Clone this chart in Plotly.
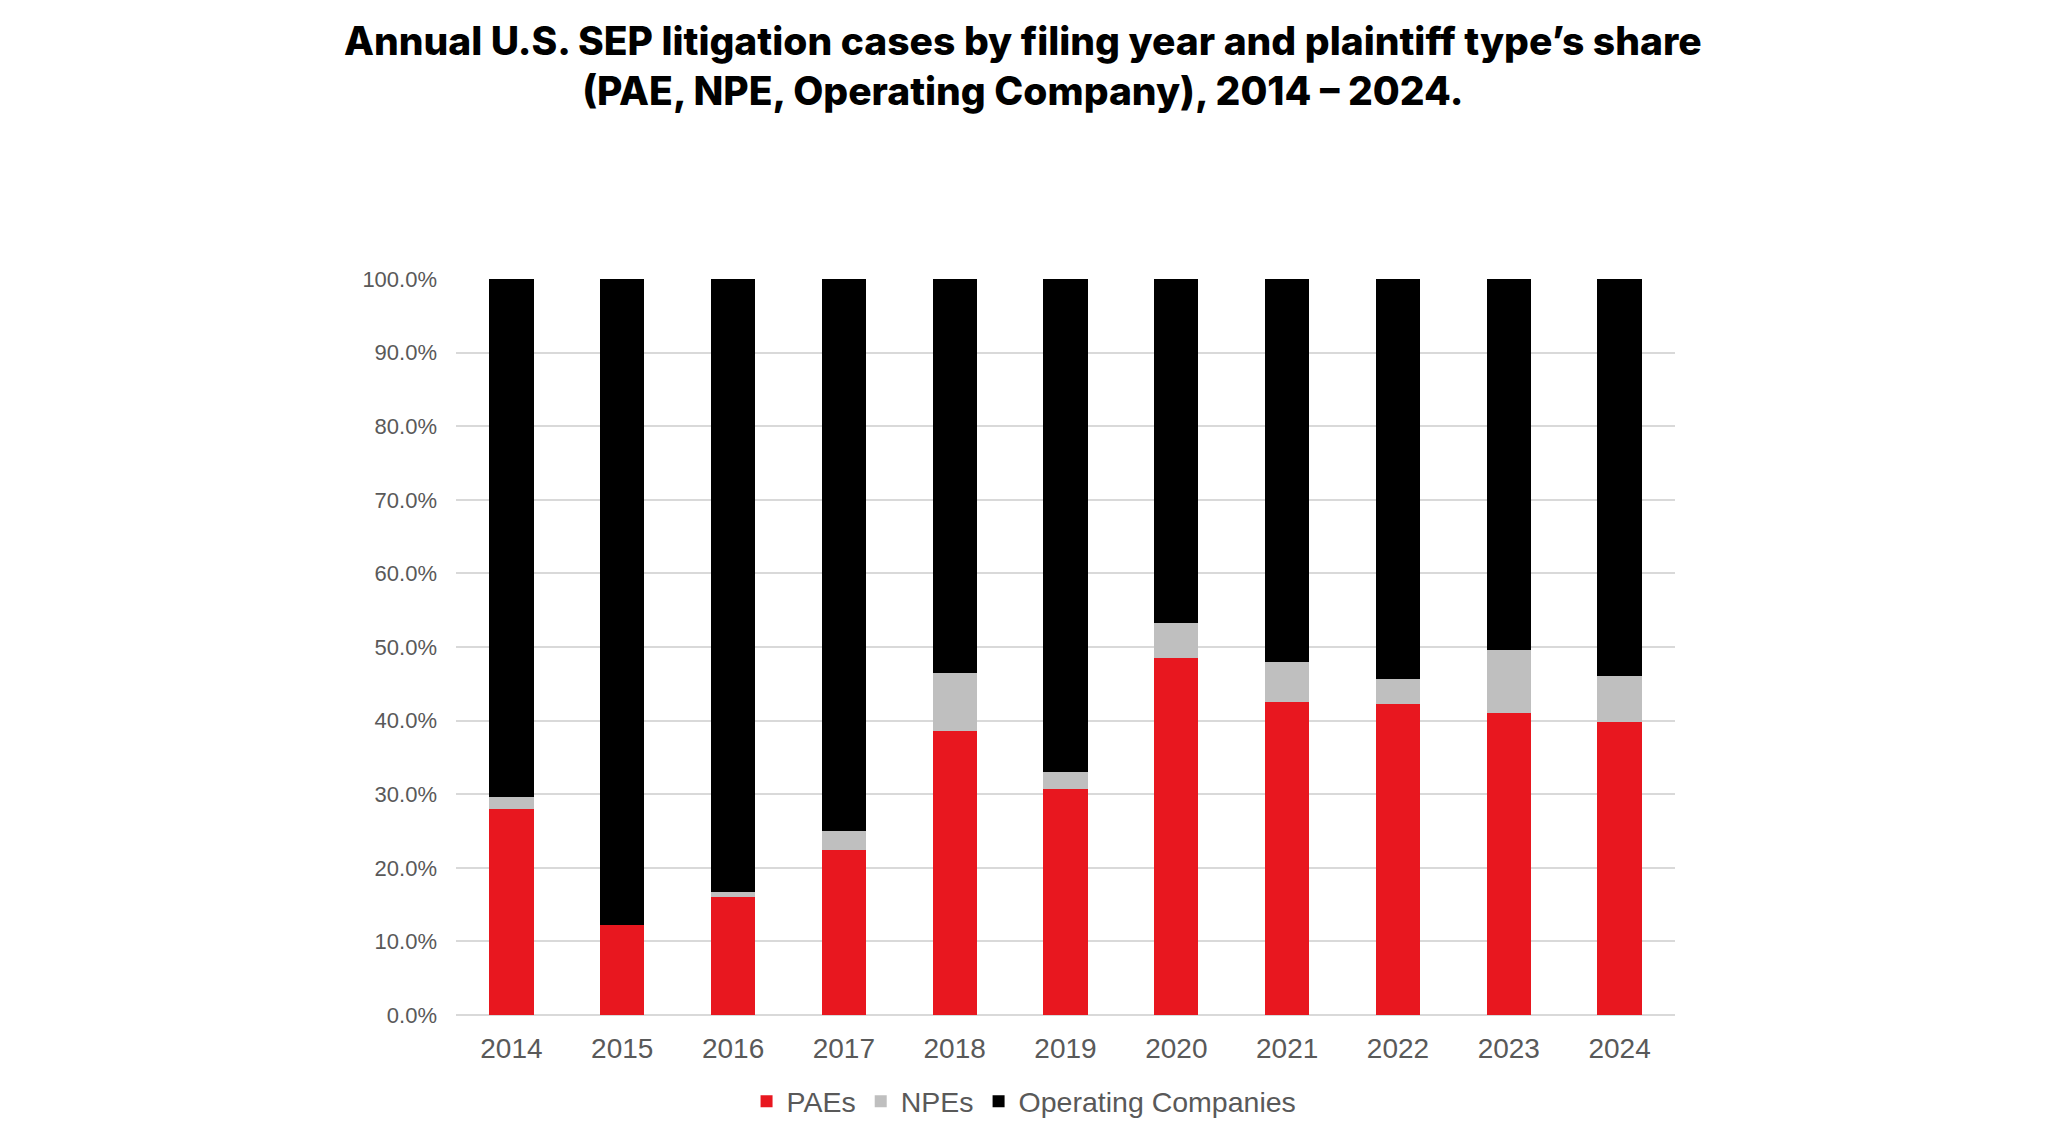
import plotly.graph_objects as go

years = ["2014", "2015", "2016", "2017", "2018", "2019", "2020", "2021", "2022", "2023", "2024"]
pae = [28.0, 12.2, 16.1, 22.4, 38.6, 30.7, 48.5, 42.5, 42.3, 41.1, 39.8]
npe = [1.6, 0.0, 0.6, 2.6, 7.9, 2.3, 4.7, 5.5, 3.3, 8.5, 6.3]
ops = [round(100 - a - b, 1) for a, b in zip(pae, npe)]
y_ticks = [0, 10, 20, 30, 40, 50, 60, 70, 80, 90, 100]
y_labels = [f"{v:.1f}%" for v in y_ticks]

RED = "#E8171F"
GRAY = "#BFBFBF"
BLACK = "#000000"

fig = go.Figure()
fig.add_trace(go.Bar(name="PAEs", x=years, y=pae, marker_color=RED, marker_line_width=0))
fig.add_trace(go.Bar(name="NPEs", x=years, y=npe, marker_color=GRAY, marker_line_width=0))
fig.add_trace(go.Bar(name="Operating Companies", x=years, y=ops, marker_color=BLACK, marker_line_width=0))

fig.update_layout(
    barmode="stack",
    bargap=0.6,
    width=2048,
    height=1141,
    paper_bgcolor="white",
    plot_bgcolor="white",
    margin=dict(l=448, r=381, t=271, b=134, autoexpand=False),
    title=dict(
        text="Annual U.S. SEP litigation cases by filing year and plaintiff type’s share<br>(PAE, NPE, Operating Company), 2014 – 2024.",
        x=0.4955, xanchor="center", y=0.959, yanchor="middle",
        font=dict(family="Inter", size=39, color="black", weight=800),
    ),
    font=dict(family="Liberation Sans", color="#595959"),
    legend=dict(
        orientation="h", x=0.466, xanchor="center", y=-0.118, yanchor="middle",
        font=dict(size=28.5, color="#595959"), traceorder="normal",
        itemwidth=30, tracegroupgap=0,
    ),
    hovermode=False,
)
fig.update_xaxes(
    tickfont=dict(size=28, color="#595959"),
    showgrid=False, showline=False, ticks="", ticklabelstandoff=14,
)
fig.update_yaxes(
    range=[0, 100], tickvals=y_ticks, ticktext=y_labels,
    tickfont=dict(size=22, color="#595959"),
    showgrid=True, gridcolor="#D9D9D9", gridwidth=1.5,
    zeroline=True, zerolinecolor="#D9D9D9", zerolinewidth=1.5,
    showline=False, ticks="", ticklabelstandoff=18,
)

fig.write_html("out.html")
